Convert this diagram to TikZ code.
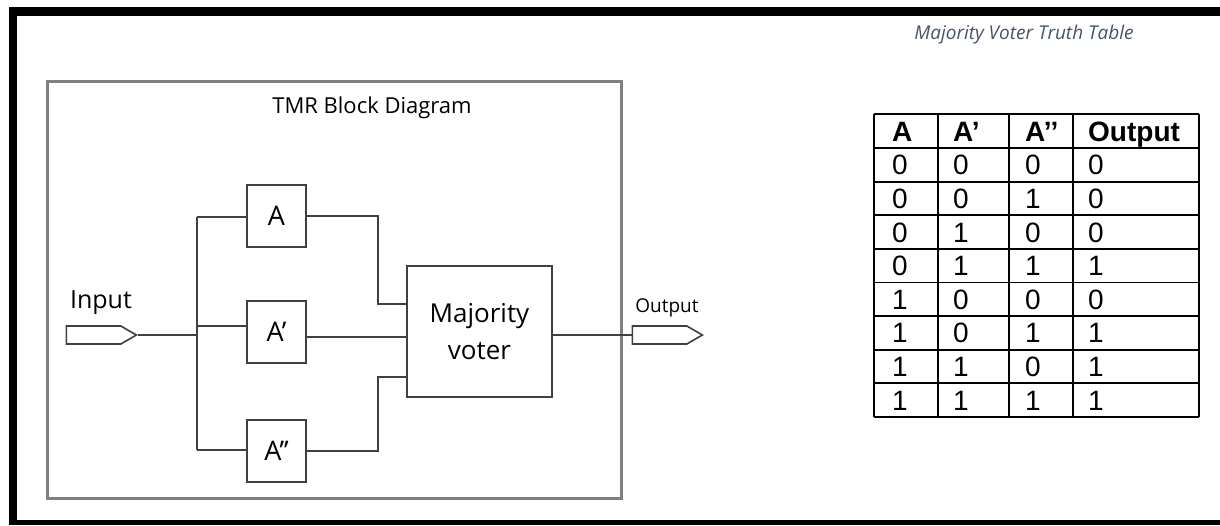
\documentclass[tikz,border=0pt]{standalone}
\usepackage{fontspec}
\setmainfont{Open Sans}
\newfontfamily\tabfont{Liberation Sans}
\usetikzlibrary{shapes.symbols}
\definecolor{wiregray}{HTML}{404040}
\definecolor{framegray}{HTML}{808080}
\definecolor{capcolor}{HTML}{44546A}

\begin{document}
\begin{tikzpicture}[x=1pt,y=-1pt,
  block/.style={draw=wiregray, line width=2pt, minimum width=59pt, minimum height=62pt, inner sep=0pt, font=\fontsize{27}{30}\selectfont},
  voter/.style={draw=wiregray, line width=2pt, minimum width=145pt, minimum height=131pt, inner sep=0pt, align=center, font=\fontsize{26}{37}\selectfont},
  port/.style={draw=wiregray, line width=1.6pt, shape=signal, signal to=east, signal pointer angle=60, minimum width=70pt, minimum height=18pt, inner sep=0pt, anchor=east},
  wire/.style={draw=wiregray, line width=2pt},
  cell/.style={anchor=base west, inner sep=0pt, font=\tabfont\fontsize{28}{28}\selectfont},
  head/.style={anchor=base west, inner sep=0pt, font=\tabfont\bfseries\fontsize{28}{28}\selectfont}]
\useasboundingbox (0,0) rectangle (1220,525);

\fill (9,7) rectangle (1220,16);
\fill (9,7) rectangle (17,525);
\fill (9,520) rectangle (1220,525);

\draw[framegray, line width=3pt] (47,81) rectangle (621,498);
\node[font=\fontsize{22}{22}\selectfont] (title) at (372,108) {TMR Block Diagram};

\node[port] (in) at (138,335) {};
\node[font=\fontsize{25}{25}\selectfont] (inlbl) at (101,303) {Input};
\node[port] (out) at (704,335) {};
\node[font=\fontsize{19}{19}\selectfont] (outlbl) at (667,308) {Output};

\node[block] (a) at (276.5,216) {A};
\node[block] (a2) at (276.5,331.5) {A’};
\node[block] (a3) at (276.5,451) {A’’};
\node[voter] (v) at (479.5,331.5) {Majority\\voter};

\coordinate (jt) at (197,217);
\coordinate (jm) at (197,326);
\coordinate (jb) at (197,450);
\coordinate (jin) at (197,335);
\coordinate (ka) at (378,304);
\coordinate (km) at (407,337);
\coordinate (kb) at (378,377);

\draw[wire] (in.east) -- (jin);
\draw[wire] (jt) -- (jb);
\draw[wire] (jt) -- (jt -| a.west);
\draw[wire] (jm) -- (jm -| a2.west);
\draw[wire] (jb) -- (jb -| a3.west);
\draw[wire] (a.east) -| (ka) -- (ka -| v.west);
\draw[wire] (km -| a2.east) -- (km);
\draw[wire] (a3.east) -| (kb) -- (kb -| v.west);
\draw[wire] (out.west -| v.east) -- (out.west);

\node[text=capcolor, font=\itshape\fontsize{19}{19}\selectfont] (tabtitle) at (1024,35) {Majority Voter Truth Table};

\foreach \x in {874,938,1009,1073,1199}
  \draw[line width=1.8pt] (\x,114) -- (\x,417);
\draw[line width=1.8pt] (874,114) -- (1199,114);
\foreach \i in {0,...,8}
  \draw[line width=1.8pt] (874,{148+33.6*\i}) -- (1199,{148+33.6*\i});

\node[head] (h1) at (892,141) {A};
\node[head] (h2) at (953,141) {A’};
\node[head] (h3) at (1025,141) {A’’};
\node[head] (h4) at (1088,141) {Output};

\foreach \p/\q/\r/\o [count=\i from 0] in {0/0/0/0,0/0/1/0,0/1/0/0,0/1/1/1,1/0/0/0,1/0/1/1,1/1/0/1,1/1/1/1} {
  \node[cell] (c\i p) at (892,{174.8+33.6*\i}) {\p};
  \node[cell] (c\i q) at (953,{174.8+33.6*\i}) {\q};
  \node[cell] (c\i r) at (1025,{174.8+33.6*\i}) {\r};
  \node[cell] (c\i o) at (1088,{174.8+33.6*\i}) {\o};
}
\end{tikzpicture}
\end{document}
